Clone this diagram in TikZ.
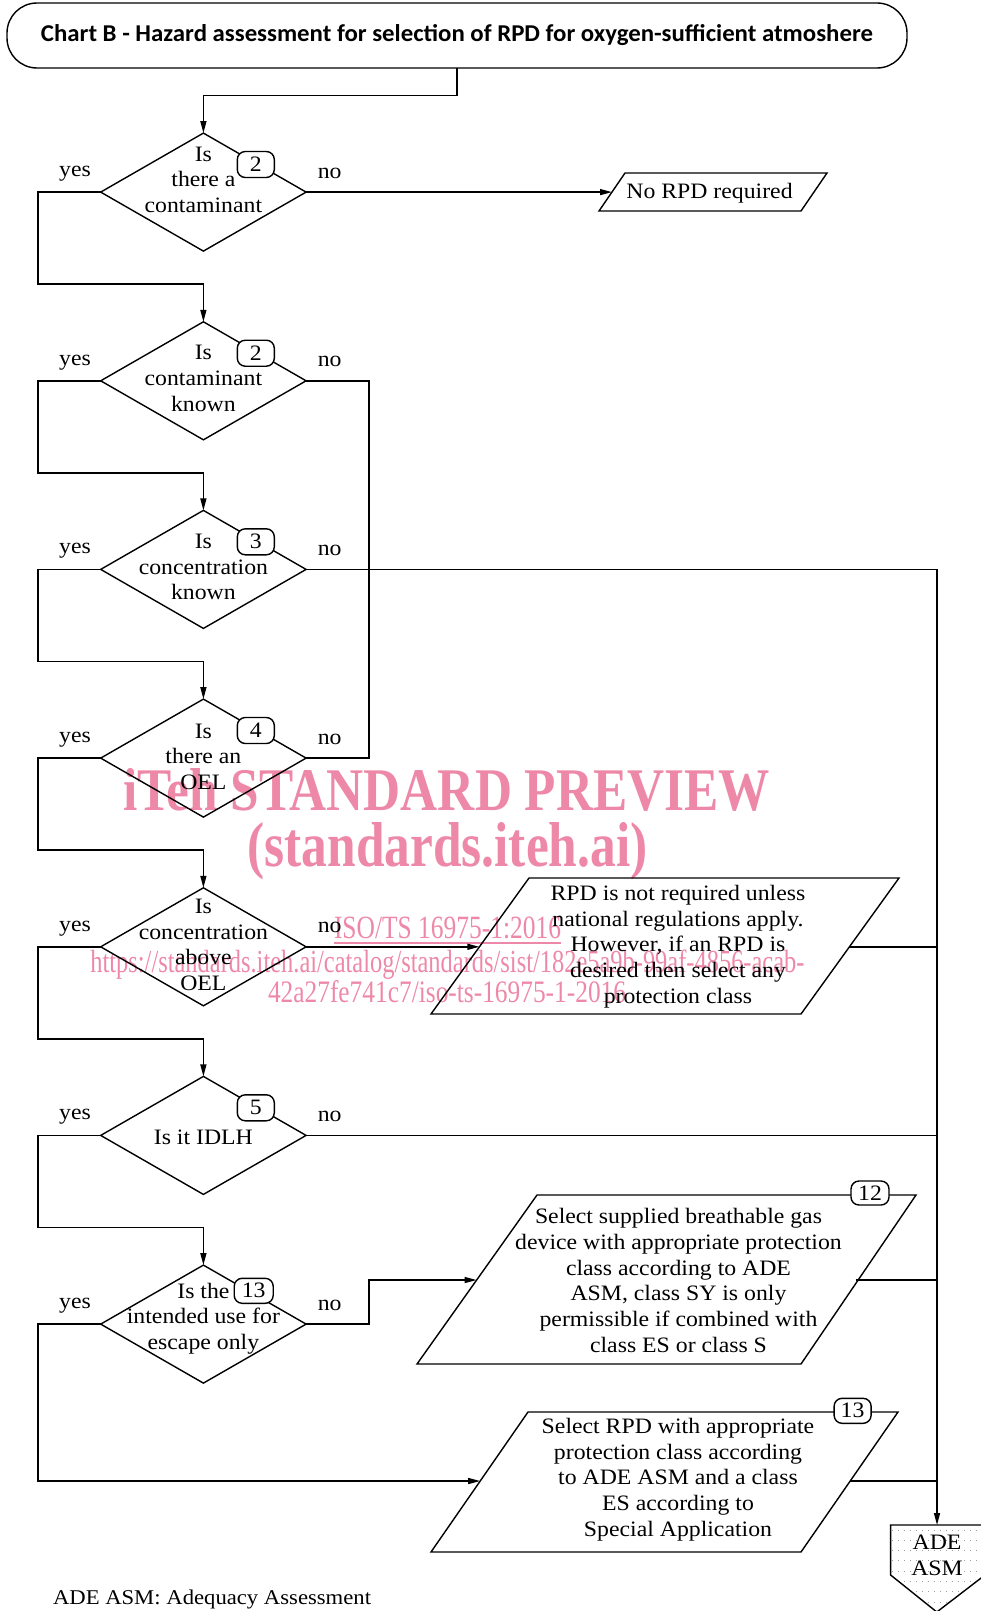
\documentclass[tikz,border=0pt]{standalone}
\usepackage{fontspec}
\usepackage{graphicx}
\setmainfont{Liberation Serif}[FakeStretch=1.08]
\newfontfamily\titlefont{Carlito}
\newfontfamily\wmfont{Liberation Serif}
\usetikzlibrary{shapes.geometric,arrows.meta,calc}
\definecolor{wmpink}{RGB}{238,136,168}
\begin{document}
\begin{tikzpicture}[x=1pt,y=-1pt,
  line width=1.4pt,
  every node/.style={inner sep=0pt, outer sep=0pt},
  txt/.style={font=\fontsize{22}{25.7}\selectfont, align=center},
  dec/.style={draw, shape=diamond, minimum width=205.4pt, minimum height=118pt},
  badge/.style={draw, fill=white, rounded corners=8pt, minimum width=37pt, minimum height=26pt, font=\fontsize{22}{25.7}\selectfont},
  arr/.style={-{Triangle[length=12pt,width=6pt]}},
  wm/.style={text=wmpink, anchor=base west, font=\wmfont},
]
\useasboundingbox (0,0) rectangle (981,1611);

% watermark (behind)
\node[wm] (wm1) at (123,810.5) {\resizebox{647pt}{42pt}{\bfseries iTeh STANDARD PREVIEW}};
\node[wm] (wm2) at (247.5,866) {\resizebox{400pt}{44pt}{\bfseries (standards.iteh.ai)}};
\node[wm] (wm3) at (334,938) {\resizebox{227pt}{21.6pt}{\underline{ISO/TS 16975-1:2016}}};
\node[wm] (wm4) at (90.4,972) {\resizebox{714pt}{22.6pt}{https://standards.iteh.ai/catalog/standards/sist/182e5a9b-99af-4856-acab-}};
\node[wm] (wm5) at (268,1002.5) {\resizebox{358pt}{22pt}{42a27fe741c7/iso-ts-16975-1-2016}};

% title
\node[draw, rounded corners=30pt, minimum width=900pt, minimum height=65pt] (title) at (457,35.5)
  {\resizebox{832pt}{17pt}{\titlefont\bfseries Chart B - Hazard assessment for selection of RPD for oxygen-sufficient atmoshere}};

% diamonds
\node[dec] (d1) at (203.4,192.1) {};
\node[dec] (d2) at (203.4,380.8) {};
\node[dec] (d3) at (203.4,569.4) {};
\node[dec] (d4) at (203.4,758.1) {};
\node[dec] (d5) at (203.4,946.8) {};
\node[dec] (d6) at (203.4,1135.4) {};
\node[dec] (d7) at (203.4,1324.1) {};

\node[txt] (t1) at (203.4,179.7) {Is\\there a\\contaminant};
\node[txt] (t2) at (203.4,378.3) {Is\\contaminant\\known};
\node[txt] (t3) at (203.4,566.9) {Is\\concentration\\known};
\node[txt] (t4) at (203.4,756.6) {Is\\there an\\OEL};
\node[txt] (t5) at (203.4,944.8) {Is\\concentration\\above\\OEL};
\node[txt] (t6) at (203.4,1137.4) {Is it IDLH};
\node[txt] (t7) at (203.4,1318.6) {Is the\\intended use for\\escape only};

\node[badge] (b1) at (255.8,164.5) {2};
\node[badge] (b2) at (255.8,353.2) {2};
\node[badge] (b3) at (255.8,541.8) {3};
\node[badge] (b4) at (255.8,730.5) {4};
\node[badge] (b6) at (255.8,1107.8) {5};
\node[badge, minimum width=39pt, minimum height=25pt] (b7) at (253.7,1290.8) {13};

% yes / no labels
\foreach \m/\n in {192.1/1,380.8/2,569.4/3,758.1/4,946.8/5,1135.4/6,1324.1/7}{
  \node[txt, anchor=base] (yes\n) at (75,\m-15.5) {yes};
  \node[txt, anchor=base] (no\n) at (329.7,\m-14) {no};
}

% parallelograms
\coordinate (nr-tl) at (625,173); \coordinate (nr-tr) at (827,173);
\coordinate (nr-br) at (801,211); \coordinate (nr-bl) at (599,211);
\draw (nr-tl) -- (nr-tr) -- (nr-br) -- (nr-bl) -- cycle;
\node[txt] (nrtext) at (709.5,193) {No RPD required};
\coordinate (nr-in) at (612,192.1);

\coordinate (p5-tl) at (529,878); \coordinate (p5-tr) at (899,878);
\coordinate (p5-br) at (801,1014); \coordinate (p5-bl) at (431,1014);
\draw (p5-tl) -- (p5-tr) -- (p5-br) -- (p5-bl) -- cycle;
\node[txt] (p5text) at (678,946.5) {RPD is not required unless\\national regulations apply.\\However, if an RPD is\\desired then select any\\protection class};
\coordinate (p5-in) at (479.4,946.8); \coordinate (p5-out) at (849.4,946.8);

\coordinate (p12-tl) at (537,1195); \coordinate (p12-tr) at (916,1195);
\coordinate (p12-br) at (801,1364); \coordinate (p12-bl) at (417,1364);
\draw (p12-tl) -- (p12-tr) -- (p12-br) -- (p12-bl) -- cycle;
\node[txt] (p12text) at (678.5,1280.5) {Select supplied breathable gas\\device with appropriate protection\\class according to ADE\\ASM, class SY is only\\permissible if combined with\\class ES or class S};
\node[badge, minimum width=38pt, minimum height=24pt] (b12) at (870,1193) {12};
\coordinate (p12-in) at (476.6,1280); \coordinate (p12-out) at (855.6,1280);

\coordinate (p13-tl) at (528,1412); \coordinate (p13-tr) at (898,1412);
\coordinate (p13-br) at (801,1552); \coordinate (p13-bl) at (431,1552);
\draw (p13-tl) -- (p13-tr) -- (p13-br) -- (p13-bl) -- cycle;
\node[txt] (p13text) at (678,1479.5) {Select RPD with appropriate\\protection class according\\to ADE ASM and a class\\ES according to\\Special Application};
\node[badge, minimum width=37pt, minimum height=25pt] (b13) at (852.6,1410.8) {13};
\coordinate (p13-in) at (480.2,1481); \coordinate (p13-out) at (850.2,1481);

% ADE ASM terminal
\coordinate (ade-n) at (937,1525);
\begin{scope}
  \clip (890.6,1525) -- (985,1525) -- (985,1575) -- (936.8,1612) -- (890.6,1575) -- cycle;
  \foreach \yy in {1530,1540.3,...,1612}{
    \draw[gray!75, line width=1pt, dash pattern=on 1pt off 5pt] (892,\yy) -- (985,\yy);
  }
\end{scope}
\draw (985,1525) -- (890.6,1525) -- (890.6,1575) -- (936.8,1612) -- (985,1575);
\node[txt] (ade) at (937,1555) {ADE\\ASM};

% junction coordinates on right trunk
\coordinate (j3) at (937,569.4);
\coordinate (j5) at (937,946.8);
\coordinate (j6) at (937,1135.4);
\coordinate (j12) at (937,1280);
\coordinate (j13) at (937,1481);

% connectors
\draw[arr] (title.south) -- (457,95.5) -| (d1.north);
\draw[arr] (d1.west) -| (38,284.1) -| (d2.north);
\draw[arr] (d2.west) -| (38,472.8) -| (d3.north);
\draw[arr] (d3.west) -| (38,661.4) -| (d4.north);
\draw[arr] (d4.west) -| (38,850.1) -| (d5.north);
\draw[arr] (d5.west) -| (38,1038.8) -| (d6.north);
\draw[arr] (d6.west) -| (38,1227.4) -| (d7.north);
\draw[arr] (d7.west) -| (38,1481) -- (p13-in);

\draw[arr] (d1.east) -- (nr-in);
\draw (d2.east) -- (368.8,380.8) -- (368.8,758.1) -- (d4.east);
\draw[arr] (d3.east) -- (j3) -- (ade-n);
\draw[arr] (d5.east) -- (p5-in);
\draw (p5-out) -- (j5);
\draw (d6.east) -- (j6);
\draw[arr] (d7.east) -- (368.8,1324.1) -- (368.8,1280) -- (p12-in);
\draw (p12-out) -- (j12);
\draw (p13-out) -- (j13);

% footnote
\node[anchor=base west, font=\fontsize{21}{24}\selectfont] (foot) at (53,1604) {ADE ASM: Adequacy Assessment};
\end{tikzpicture}
\end{document}
